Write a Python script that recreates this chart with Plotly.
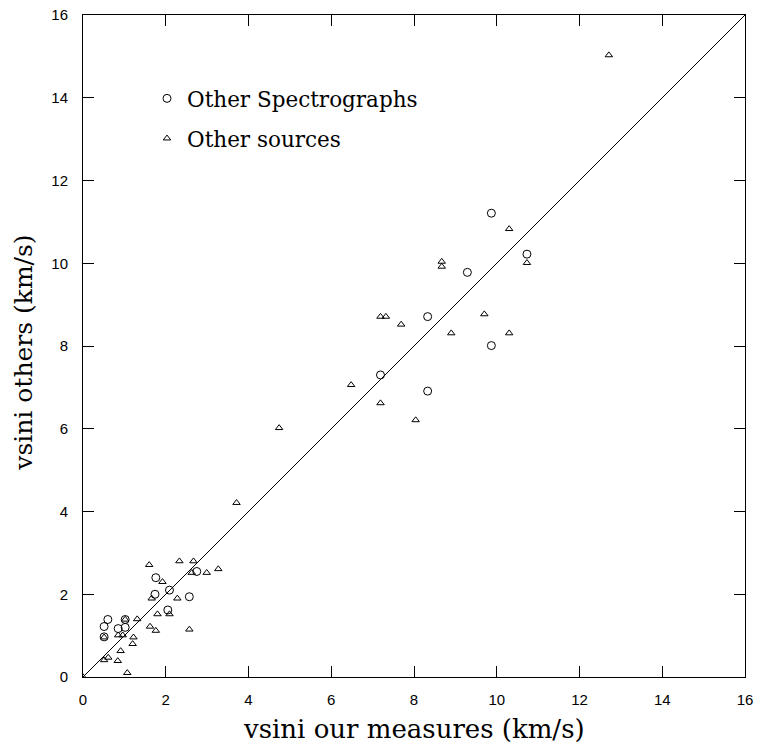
import plotly.graph_objects as go

# Other Spectrographs (circles)
spec_x = [0.51, 0.60, 0.51, 0.85, 1.02, 1.02, 1.74, 1.76, 2.05, 2.09, 2.57, 2.75,
          7.19, 8.33, 8.33, 9.29, 9.87, 9.87, 10.73]
spec_y = [0.97, 1.39, 1.22, 1.17, 1.20, 1.39, 2.00, 2.40, 1.62, 2.10, 1.94, 2.55,
          7.30, 8.71, 6.91, 9.78, 11.21, 8.01, 10.22]

# Other sources (triangles)
src_x = [0.00, 0.51, 0.61, 0.84, 0.91, 1.07, 0.51, 0.85, 0.96, 1.02, 1.20, 1.22, 1.31,
         1.60, 1.62, 1.66, 1.76, 1.80, 1.92, 2.09, 2.28, 2.33, 2.57, 2.63, 2.67, 2.99, 3.27,
         3.71, 4.74, 6.48, 7.19, 7.19, 7.32, 7.69, 8.04, 8.67, 8.67, 8.90, 9.70,
         10.30, 10.30, 10.73, 12.71]
src_y = [0.00, 0.41, 0.47, 0.39, 0.63, 0.10, 0.96, 1.01, 1.01, 1.39, 0.80, 0.96, 1.40,
         2.71, 1.22, 1.90, 1.12, 1.52, 2.30, 1.52, 1.90, 2.80, 1.15, 2.52, 2.80, 2.52, 2.61,
         4.21, 6.02, 7.06, 6.62, 8.71, 8.71, 8.52, 6.21, 10.04, 9.92, 8.31, 8.77,
         10.83, 8.31, 10.01, 15.03]

line_x = [0, 16]
line_y = [0, 16]

x_ticks = [0, 2, 4, 6, 8, 10, 12, 14, 16]
y_ticks = [0, 2, 4, 6, 8, 10, 12, 14, 16]

x_title = "vsini our measures (km/s)"
y_title = "vsini others (km/s)"

fig = go.Figure()
fig.add_trace(go.Scatter(x=line_x, y=line_y, mode="lines",
                         line=dict(color="black", width=1), showlegend=False,
                         hoverinfo="skip"))
fig.add_trace(go.Scatter(x=spec_x, y=spec_y, mode="markers", name="Other Spectrographs",
                         legendgroup="a",
                         marker=dict(symbol="circle-open", size=8, color="black",
                                     line=dict(width=1))))
fig.add_trace(go.Scatter(x=src_x, y=src_y, mode="markers", name="Other sources",
                         legendgroup="b",
                         marker=dict(symbol="triangle-up-open", size=6.5, color="black",
                                     line=dict(width=1))))

axis_common = dict(
    showgrid=False, zeroline=False, showline=True, linecolor="black", linewidth=1,
    mirror="ticks", ticks="inside", ticklen=11, tickcolor="black", tickwidth=1,
    tickfont=dict(family="Liberation Sans", size=15, color="black"),
    automargin=False, range=[0, 16],
)

fig.update_xaxes(tickvals=x_ticks, ticktext=[str(t) for t in x_ticks],
                 ticklabelstandoff=9, **axis_common)
fig.update_yaxes(tickvals=y_ticks, ticktext=[str(t) for t in y_ticks],
                 ticklabelstandoff=11, **axis_common)

fig.add_annotation(text=x_title, xref="paper", yref="paper", x=0.5, y=-0.079,
                   xanchor="center", yanchor="middle", showarrow=False,
                   font=dict(family="DejaVu Serif", size=26, color="black"))
fig.add_annotation(text=y_title, xref="paper", yref="paper", x=-0.089, y=0.49,
                   xanchor="center", yanchor="middle", showarrow=False,
                   textangle=-90,
                   font=dict(family="DejaVu Serif", size=25, color="black"))

fig.update_layout(
    width=760, height=747,
    margin=dict(l=83, r=15, t=15, b=70),
    plot_bgcolor="white", paper_bgcolor="white",
    legend=dict(x=0.0967, y=0.905, xanchor="left", yanchor="top",
                font=dict(family="DejaVu Serif", size=21.5, color="black"),
                tracegroupgap=9, itemwidth=30, bgcolor="rgba(0,0,0,0)"),
)

fig.write_html("out.html")
